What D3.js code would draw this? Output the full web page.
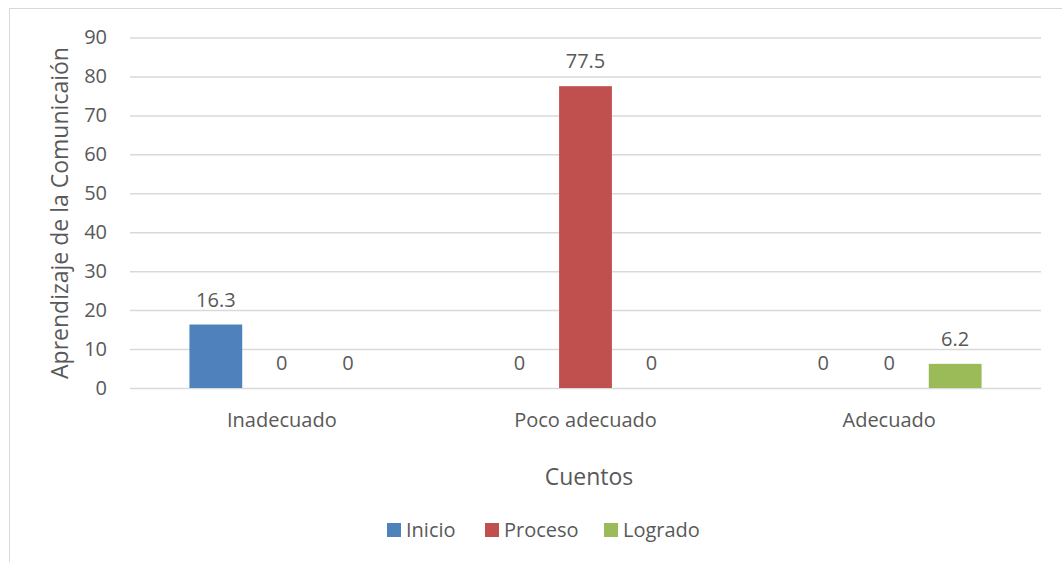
<!DOCTYPE html>
<html><head><meta charset="utf-8">
<script src="https://cdn.jsdelivr.net/npm/d3@7"></script>
<style>body{margin:0;background:#fff}svg text{font-family:"Open Sans","Noto Sans",sans-serif;fill:#595959}</style>
</head><body><svg id="c" width="1062" height="562"></svg>
<script>
const categories = ["Inadecuado","Poco adecuado","Adecuado"];
const seriesNames = ["Inicio","Proceso","Logrado"];
const inicio = [16.3, 0, 0];
const proceso = [0, 77.5, 0];
const logrado = [0, 0, 6.2];
const colors = ["#4f81bd","#c0504d","#9bbb59"];
const yTicks = [0,10,20,30,40,50,60,70,80,90];
const series = [inicio, proceso, logrado];

const svg = d3.select("#c");
svg.append("rect").attr("x",9.5).attr("y",8.5).attr("width",1100).attr("height",600)
  .attr("fill","none").attr("stroke","#d9d9d9").attr("stroke-width",1);

const m = {l:130, r:1041, t:37.5, b:388};
const x = d3.scaleBand().domain(categories).range([m.l,m.r]);
const y = d3.scaleLinear().domain([0,90]).range([m.b,m.t]);
const x1 = d3.scaleBand().domain(seriesNames).range([0,x.bandwidth()]).paddingInner(0.2).paddingOuter(0.9);

const yAxis = d3.axisLeft(y).tickValues(yTicks).tickSize(-(m.r-m.l)).tickPadding(23);
const gy = svg.append("g").attr("transform",`translate(${m.l},0)`).call(yAxis);
gy.select(".domain").remove();
gy.selectAll(".tick line").attr("stroke","#d9d9d9").attr("stroke-width",1.5);
gy.selectAll(".tick text").attr("font-size",20).style("fill","#595959");

const xAxis = d3.axisBottom(x).tickSize(0).tickPadding(0);
const gx = svg.append("g").attr("transform",`translate(0,${m.b})`).call(xAxis);
gx.select(".domain").remove();
gx.selectAll(".tick text").attr("font-size",20).attr("y",39).attr("dy",0).style("fill","#595959");

series.forEach((vals,si)=>{
  const g = svg.append("g");
  categories.forEach((c,ci)=>{
    const v = vals[ci];
    const bx = x(c)+x1(seriesNames[si]);
    g.append("rect").attr("x",bx).attr("y",y(v)).attr("width",x1.bandwidth())
      .attr("height",y(0)-y(v)).attr("fill",colors[si]);
    g.append("text").attr("x",bx+x1.bandwidth()/2).attr("y",y(v)-18)
      .attr("text-anchor","middle").attr("font-size",20).text(v);
  });
});

svg.append("text").attr("x",589).attr("y",485).attr("text-anchor","middle")
  .attr("font-size",23).text("Cuentos");
svg.append("text").attr("transform",`translate(68,213) rotate(-90)`)
  .attr("text-anchor","middle").attr("font-size",23).text("Aprendizaje de la Comunicaión");

const legX = [387, 485, 604];
seriesNames.forEach((n,i)=>{
  svg.append("rect").attr("x",legX[i]).attr("y",523).attr("width",14).attr("height",14).attr("fill",colors[i]);
  svg.append("text").attr("x",legX[i]+19).attr("y",537).attr("font-size",20).text(n);
});
</script></body></html>
